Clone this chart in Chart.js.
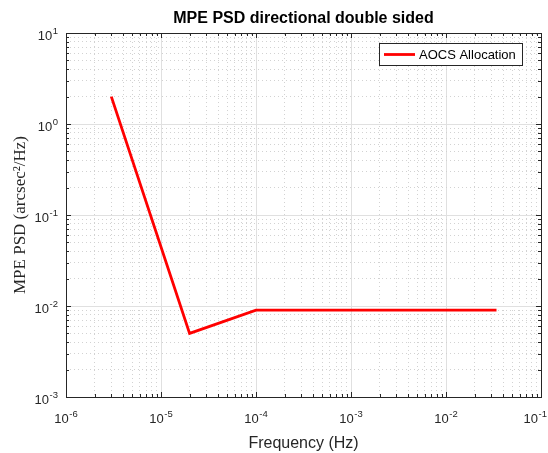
<!DOCTYPE html>
<html><head><meta charset="utf-8">
<script src="https://cdn.jsdelivr.net/npm/chart.js@4/dist/chart.umd.min.js"></script>
<style>html,body{margin:0;padding:0;background:#fff;}</style>
</head><body>
<canvas id="c" width="548" height="453"></canvas>
<script>
// ---- data ----
const freqHz = [3e-6, 2e-5, 1e-4, 3.4e-2];
const psdAOCS = [2, 5e-3, 9e-3, 9e-3];
const seriesName = 'AOCS Allocation';
const xMajorTicks = [1e-6, 1e-5, 1e-4, 1e-3, 1e-2, 1e-1];
const xTickLabels = ['10^-6', '10^-5', '10^-4', '10^-3', '10^-2', '10^-1'];
const yMajorTicks = [1e-3, 1e-2, 1e-1, 1e0, 1e1];
const yTickLabels = ['10^-3', '10^-2', '10^-1', '10^0', '10^1'];
const titleText = 'MPE PSD directional double sided';
const xTitleText = 'Frequency (Hz)';
const yTitleText = 'MPE PSD (arcsec²/Hz)';

function minorsOf(majors) {
  const out = [];
  for (let i = 0; i < majors.length - 1; i++)
    for (let m = 2; m <= 9; m++) out.push(m * majors[i]);
  return out;
}
const xMinorTicks = minorsOf(xMajorTicks);
const yMinorTicks = minorsOf(yMajorTicks);

const AX = '#262626';
const MAJOR_GRID = '#e0e0e0';
const MINOR_GRID = '#d2d2d2';
const SANS = "'Liberation Sans', Arial, Helvetica, sans-serif";
const SERIF = "'Liberation Serif', 'Times New Roman', serif";
const BASE_FONT = '13px ' + SANS;
const EXP_FONT = '9.5px ' + SANS;

const points = freqHz.map((f, i) => ({ x: f, y: psdAOCS[i] }));

// draws "10" with a raised exponent; (x, baseline) anchors; align 'center' or 'right'
function drawPow(ctx, label, x, baseline, align, maxRight) {
  const [base, exp] = label.split('^');
  ctx.font = BASE_FONT;
  const wb = ctx.measureText(base).width;
  ctx.font = EXP_FONT;
  const we = ctx.measureText(exp).width;
  const total = wb + we + 0.5;
  let x0 = align === 'center' ? x - total / 2 : x - total;
  if (maxRight !== undefined && x0 + total > maxRight) x0 = maxRight - total;
  ctx.textAlign = 'left';
  ctx.textBaseline = 'alphabetic';
  ctx.font = BASE_FONT;
  ctx.fillText(base, x0, baseline);
  ctx.font = EXP_FONT;
  ctx.fillText(exp, x0 + wb + 0.5, baseline - 6.5);
}

const matlabDecor = {
  id: 'matlabDecor',
  afterDraw(chart) {
    const { ctx, chartArea: a, scales } = chart;
    ctx.save();
    // inward tick marks on all four sides
    ctx.strokeStyle = AX;
    ctx.lineWidth = 1;
    const xt = (scale, len) => scale.ticks.forEach(t => {
      const px = Math.round(scale.getPixelForValue(t.value)) + 0.5;
      ctx.beginPath();
      ctx.moveTo(px, a.bottom); ctx.lineTo(px, a.bottom - len);
      ctx.moveTo(px, a.top); ctx.lineTo(px, a.top + len);
      ctx.stroke();
    });
    const yt = (scale, len) => scale.ticks.forEach(t => {
      const py = Math.round(scale.getPixelForValue(t.value)) + 0.5;
      ctx.beginPath();
      ctx.moveTo(a.left, py); ctx.lineTo(a.left + len, py);
      ctx.moveTo(a.right, py); ctx.lineTo(a.right - len, py);
      ctx.stroke();
    });
    xt(scales.x, 5); xt(scales.x2, 3);
    yt(scales.y, 5); yt(scales.y2, 3);

    // tick labels with superscript exponents, positioned by the scales
    ctx.fillStyle = AX;
    scales.x.ticks.forEach((t, i) => {
      drawPow(ctx, xTickLabels[i], scales.x.getPixelForValue(t.value), a.bottom + 26, 'center', chart.width - 1);
    });
    scales.y.ticks.forEach((t, i) => {
      drawPow(ctx, yTickLabels[i], a.left - 8, scales.y.getPixelForValue(t.value) + 7, 'right');
    });

    // title centred on the axes
    ctx.fillStyle = '#000';
    ctx.font = 'bold 16px ' + SANS;
    ctx.textAlign = 'center';
    ctx.textBaseline = 'alphabetic';
    ctx.fillText(titleText, (a.left + a.right) / 2, 23);

    // legend box (top-right, inside axes)
    const ds = chart.data.datasets[0];
    ctx.font = '13px ' + SANS;
    const tw = ctx.measureText(ds.label).width;
    const bw = Math.round(tw + 46), bh = 22;
    const bx = Math.round(a.right - 19 - bw), by = Math.round(a.top + 10);
    ctx.fillStyle = '#fff';
    ctx.fillRect(bx, by, bw, bh);
    ctx.strokeStyle = AX;
    ctx.lineWidth = 1;
    ctx.strokeRect(bx + 0.5, by + 0.5, bw, bh);
    ctx.strokeStyle = ds.borderColor;
    ctx.lineWidth = ds.borderWidth;
    ctx.beginPath();
    ctx.moveTo(bx + 5, by + bh / 2 + 0.5); ctx.lineTo(bx + 36, by + bh / 2 + 0.5);
    ctx.stroke();
    ctx.fillStyle = '#000';
    ctx.textAlign = 'left';
    ctx.textBaseline = 'middle';
    ctx.fillText(ds.label, bx + 40, by + bh / 2 + 1);
    ctx.restore();
  }
};

new Chart(document.getElementById('c'), {
  type: 'line',
  data: {
    datasets: [{
      label: seriesName,
      data: points,
      borderColor: '#ff0000',
      backgroundColor: '#ff0000',
      borderWidth: 2.8,
      pointRadius: 0,
      tension: 0,
      xAxisID: 'x',
      yAxisID: 'y'
    }]
  },
  options: {
    responsive: false,
    animation: false,
    devicePixelRatio: 1,
    layout: { padding: 0 },
    plugins: { legend: { display: false }, title: { display: false }, tooltip: { enabled: false } },
    scales: {
      x: {
        type: 'logarithmic', position: 'bottom',
        min: 1e-6, max: 1e-1,
        afterBuildTicks: s => { s.ticks = xMajorTicks.map(v => ({ value: v })); },
        afterFit: s => { s.height = 56; s.paddingLeft = 0; s.paddingRight = 0; },
        ticks: { display: false },
        grid: { color: MAJOR_GRID, lineWidth: 1, drawTicks: false },
        border: { display: true, color: AX, width: 1 },
        title: { display: true, text: xTitleText, color: AX, font: { family: SANS, size: 16 }, padding: { top: -2, bottom: 0 } }
      },
      x2: {
        type: 'logarithmic', position: 'top',
        min: 1e-6, max: 1e-1,
        afterBuildTicks: s => { s.ticks = xMinorTicks.map(v => ({ value: v })); },
        afterFit: s => { s.height = 33; s.paddingLeft = 0; s.paddingRight = 0; },
        ticks: { display: false },
        grid: { color: MINOR_GRID, lineWidth: 1, drawTicks: false },
        border: { display: true, color: AX, width: 1, dash: [1, 3] }
      },
      y: {
        type: 'logarithmic', position: 'left',
        min: 1e-3, max: 1e1,
        afterBuildTicks: s => { s.ticks = yMajorTicks.map(v => ({ value: v })); },
        afterFit: s => { s.width = 66; s.paddingTop = 0; s.paddingBottom = 0; },
        ticks: { display: false },
        grid: { color: MAJOR_GRID, lineWidth: 1, drawTicks: false },
        border: { display: true, color: AX, width: 1 },
        title: { display: true, text: yTitleText, color: AX, font: { family: SERIF, size: 17 }, padding: { top: 10, bottom: 0 } }
      },
      y2: {
        type: 'logarithmic', position: 'right',
        min: 1e-3, max: 1e1,
        afterBuildTicks: s => { s.ticks = yMinorTicks.map(v => ({ value: v })); },
        afterFit: s => { s.width = 7; s.paddingTop = 0; s.paddingBottom = 0; },
        ticks: { display: false },
        grid: { color: MINOR_GRID, lineWidth: 1, drawTicks: false },
        border: { display: true, color: AX, width: 1, dash: [1, 3] }
      }
    }
  },
  plugins: [matlabDecor]
});
</script>
</body></html>
